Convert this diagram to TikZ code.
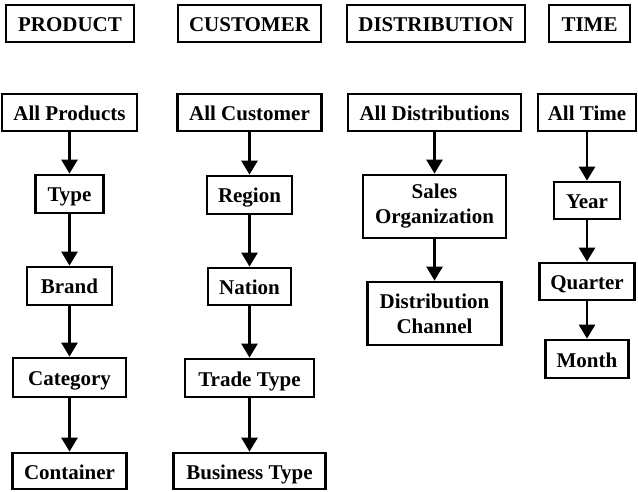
\documentclass[tikz,border=0pt]{standalone}
\usepackage{fontspec}
\setmainfont{Liberation Serif}
\usetikzlibrary{arrows.meta}
\tikzset{
  box/.style={draw=black, line width=2.7pt, fill=white, inner sep=0pt, align=center,
    font=\bfseries\fontsize{21}{25}\selectfont},
  one/.style={text height=17pt, text depth=1pt},
  link/.style={line width=2.6pt, -{Triangle[width=16pt,length=14pt]}}
}
\begin{document}
\begin{tikzpicture}[x=1pt,y=-1pt]
\useasboundingbox (0,0) rectangle (638,492);
% headers
\node[box, one, minimum width=128pt, minimum height=37pt] (hP) at (70,23.5) {PRODUCT};
\node[box, one, minimum width=143pt, minimum height=37pt] (hC) at (249.5,23.5) {CUSTOMER};
\node[box, one, minimum width=178pt, minimum height=37pt] (hD) at (436,23.5) {DISTRIBUTION};
\node[box, one, minimum width=81pt, minimum height=37pt] (hT) at (589.5,23.5) {TIME};
% product
\node[box, one, minimum width=135pt, minimum height=37pt] (p1) at (69.5,112.5) {All Products};
\node[box, one, minimum width=68pt, minimum height=38pt] (p2) at (69.5,194) {Type};
\node[box, one, minimum width=85pt, minimum height=38pt] (p3) at (69.5,286) {Brand};
\node[box, one, minimum width=113pt, minimum height=39pt] (p4) at (69.5,377.5) {Category};
\node[box, one, minimum width=114pt, minimum height=36pt] (p5) at (69.5,471) {Container};
% customer
\node[box, one, minimum width=144pt, minimum height=37pt] (c1) at (249.5,112.5) {All Customer};
\node[box, one, minimum width=85pt, minimum height=38pt] (c2) at (249.5,195) {Region};
\node[box, one, minimum width=83pt, minimum height=37pt] (c3) at (249.5,286.5) {Nation};
\node[box, one, minimum width=129pt, minimum height=38pt] (c4) at (249.5,378) {Trade Type};
\node[box, one, minimum width=152pt, minimum height=36pt] (c5) at (249.5,471) {Business Type};
% distribution
\node[box, minimum width=143pt, minimum height=63pt] (d2) at (434.5,206.5) {Sales\\Organization};
\node[box, one, minimum width=173pt, minimum height=37pt] (d1) at (434.5,112.5) {All Distributions};
\node[box, minimum width=134pt, minimum height=63pt] (d3) at (434.5,313.5) {Distribution\\Channel};
% time
\node[box, one, minimum width=98pt, minimum height=37pt] (t1) at (587,112.5) {All Time};
\node[box, one, minimum width=66pt, minimum height=37pt] (t2) at (587,200.5) {Year};
\node[box, one, minimum width=95pt, minimum height=37pt] (t3) at (587,281.5) {Quarter};
\node[box, one, minimum width=83pt, minimum height=38pt] (t4) at (587,359) {Month};
% connectors
\draw[link] (p1) -- (p2);
\draw[link] (p2) -- (p3);
\draw[link] (p3) -- (p4);
\draw[link] (p4) -- (p5);
\draw[link] (c1) -- (c2);
\draw[link] (c2) -- (c3);
\draw[link] (c3) -- (c4);
\draw[link] (c4) -- (c5);
\draw[link] (d1) -- (d2);
\draw[link] (d2) -- (d3);
\draw[link] (t1) -- (t2);
\draw[link] (t2) -- (t3);
\draw[link] (t3) -- (t4);
\end{tikzpicture}
\end{document}
